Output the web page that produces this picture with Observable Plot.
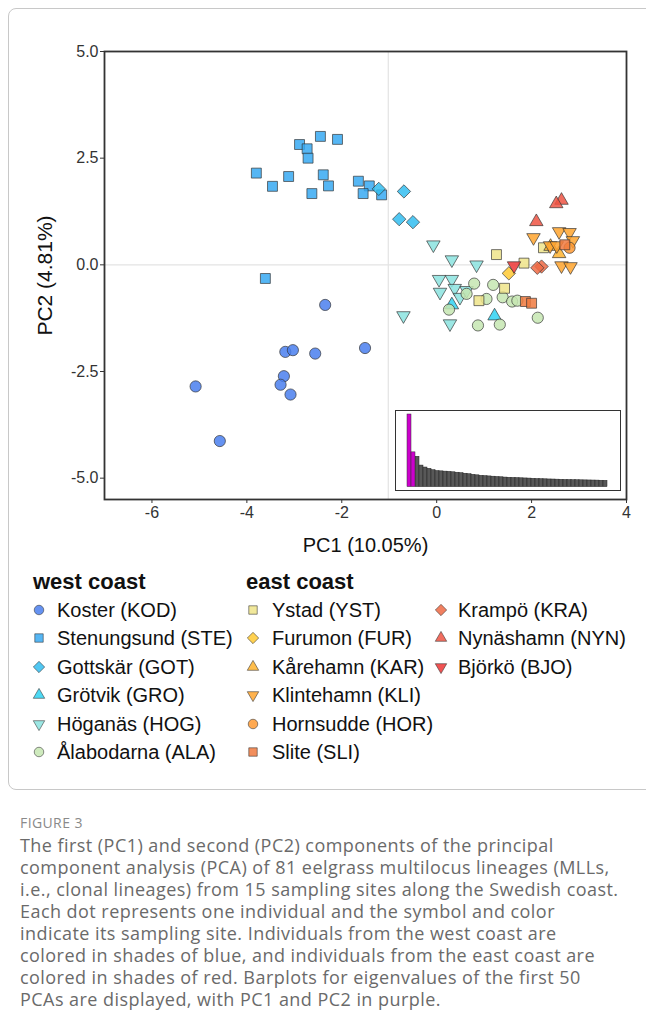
<!DOCTYPE html>
<html><head><meta charset="utf-8">
<script src="https://cdn.jsdelivr.net/npm/d3@7"></script>
<script src="https://cdn.jsdelivr.net/npm/@observablehq/plot@0.6"></script>
<style>
body{margin:0;background:#fff;width:646px;height:1023px;overflow:hidden;position:relative;font-family:"Liberation Sans",Arial,sans-serif;}
#box{position:absolute;left:8px;top:8px;width:700px;height:782px;border:1px solid #c8c8c8;border-radius:8px;box-sizing:border-box;}
#main{position:absolute;left:0;top:0;}
#inset{position:absolute;left:395px;top:410px;width:226px;height:81px;border:1.3px solid #333;background:#fff;box-sizing:border-box;}
#inset svg{display:block;}
.lg{position:absolute;white-space:nowrap;color:#111;}
.hd{position:absolute;font-weight:bold;font-size:22px;color:#111;white-space:nowrap;}
#figlab{position:absolute;left:20px;top:813px;font:14px "Open Sans",sans-serif;color:#8a8a8a;letter-spacing:0.4px;}
#cap{position:absolute;left:20px;top:834px;font:18px/22px "Open Sans",sans-serif;letter-spacing:0.45px;color:#6a6a6a;white-space:nowrap;}
</style></head>
<body>
<div id="box"></div>
<div id="main"></div>
<div id="inset"></div>
<div id="legend"></div>
<div id="figlab">FIGURE 3</div>
<div id="cap">The first (PC1) and second (PC2) components of the principal<br>component analysis (PCA) of 81 eelgrass multilocus lineages (MLLs,<br>i.e., clonal lineages) from 15 sampling sites along the Swedish coast.<br>Each dot represents one individual and the symbol and color<br>indicate its sampling site. Individuals from the west coast are<br>colored in shades of blue, and individuals from the east coast are<br>colored in shades of red. Barplots for eigenvalues of the first 50<br>PCAs are displayed, with PC1 and PC2 in purple.</div>
<script>
// ---------- data ----------
const siteCodes = ["KOD","STE","GOT","GRO","HOG","ALA","YST","FUR","KAR","KLI","HOR","SLI","KRA","NYN","BJO"];
const siteNames = ["Koster","Stenungsund","Gottskär","Grötvik","Höganäs","Ålabodarna","Ystad","Furumon","Kårehamn","Klintehamn","Hornsudde","Slite","Krampö","Nynäshamn","Björkö"];
const westSites = ["KOD","STE","GOT","GRO","HOG","ALA"];
const eastSites1 = ["YST","FUR","KAR","KLI","HOR","SLI"];
const eastSites2 = ["KRA","NYN","BJO"];

// [PC1, PC2] per site
const KOD = [[-2.35,-0.94],[-3.19,-2.04],[-3.03,-2.0],[-2.56,-2.08],[-1.51,-1.95],[-3.22,-2.61],[-3.29,-2.81],[-3.08,-3.04],[-5.08,-2.85],[-4.57,-4.13]];
const STE = [[-2.89,2.82],[-2.73,2.72],[-2.71,2.50],[-2.45,3.01],[-2.09,2.94],[-3.80,2.15],[-3.46,1.84],[-3.12,2.07],[-2.39,2.11],[-2.28,1.85],[-2.63,1.67],[-1.65,1.96],[-1.42,1.85],[-1.55,1.67],[-1.16,1.64],[-3.61,-0.32]];
const GOT = [[-1.22,1.78],[-0.69,1.72],[-0.79,1.07],[-0.50,1.00]];
const GRO = [[0.32,-0.94],[1.22,-1.20]];
const HOG = [[-0.07,0.47],[0.32,0.12],[0.84,0.0],[0.05,-0.34],[0.32,-0.34],[0.07,-0.64],[0.38,-0.55],[0.49,-0.76],[0.63,-0.60],[0.28,-1.38],[-0.70,-1.19]];
const ALA = [[0.79,-0.44],[1.19,-0.47],[0.63,-0.68],[1.05,-0.80],[0.26,-1.05],[0.87,-1.42],[1.33,-1.40],[1.39,-0.76],[1.59,-0.86],[1.70,-0.84],[2.13,-1.24]];
const YST = [[1.26,0.24],[1.84,0.04],[1.43,-0.55],[0.89,-0.84],[2.25,0.40]];
const FUR = [[1.52,-0.20]];
const KAR = [[2.58,0.26],[2.40,0.43]];
const KLI = [[2.04,0.64],[2.58,0.78],[2.80,0.76],[2.87,0.57],[2.39,0.45],[2.53,0.45],[2.63,-0.02],[2.82,-0.04]];
const HOR = [[2.80,0.40]];
const SLI = [[1.87,-0.86],[2.00,-0.90],[2.70,0.47]];
const KRA = [[2.21,-0.04],[2.12,-0.07]];
const NYN = [[2.63,1.51],[2.52,1.43],[2.10,1.01]];
const BJO = [[1.63,-0.02]];

const eigenvalues = [10.05,4.81,4.2,2.98,2.71,2.53,2.34,2.22,2.18,2.14,2.11,2.05,1.99,1.93,1.85,1.78,1.7,1.63,1.56,1.52,1.48,1.44,1.4,1.36,1.32,1.29,1.27,1.25,1.22,1.2,1.18,1.15,1.12,1.1,1.08,1.06,1.05,1.03,1.01,0.99,0.98,0.96,0.95,0.94,0.93,0.92,0.91,0.9,0.88,0.87];

const xTicks = [-6,-4,-2,0,2,4];
const yTicks = [-5,-2.5,0,2.5,5];
const xLabel = "PC1 (10.05%)";
const yLabel = "PC2 (4.81%)";
const vRefX = -1.02;

// ---------- styles ----------
const sqrt3 = Math.sqrt(3);
const triangleDown = {draw(ctx, size){const y = -Math.sqrt(size/(sqrt3*3)); ctx.moveTo(0,-y*2); ctx.lineTo(-sqrt3*y,y); ctx.lineTo(sqrt3*y,y); ctx.closePath();}};
const style = {
  KOD:{color:"#4a7fef",symbol:"circle",r:5.6},
  STE:{color:"#37a9f2",symbol:"square",r:5.6},
  GOT:{color:"#33bdf0",symbol:"diamond2",r:6.0},
  GRO:{color:"#2fd2f2",symbol:"triangle",r:5.0},
  HOG:{color:"#8be3df",symbol:triangleDown,r:5.0},
  ALA:{color:"#c6e6b2",symbol:"circle",r:5.6},
  YST:{color:"#efe48a",symbol:"square",r:5.6},
  FUR:{color:"#ffc933",symbol:"diamond2",r:6.0},
  KAR:{color:"#ffb32e",symbol:"triangle",r:5.0},
  KLI:{color:"#ffa52e",symbol:triangleDown,r:5.0},
  HOR:{color:"#ff9a33",symbol:"circle",r:5.6},
  SLI:{color:"#f07a40",symbol:"square",r:5.6},
  KRA:{color:"#ee6a44",symbol:"diamond2",r:6.0},
  NYN:{color:"#ef5443",symbol:"triangle",r:5.0},
  BJO:{color:"#ef3535",symbol:triangleDown,r:5.0}
};
const siteData = {KOD,STE,GOT,GRO,HOG,ALA,YST,FUR,KAR,KLI,HOR,SLI,KRA,NYN,BJO};

const points = siteCodes.flatMap(code => siteData[code].map(([pc1,pc2]) => ({site:code, pc1, pc2})));
const fmtY = d => d3.format(".1f")(d).replace("\u2212","-");

const main = Plot.plot({
  width:646, height:565,
  marginLeft:104, marginRight:20, marginTop:51, marginBottom:66,
  style:{fontFamily:'"Liberation Sans", Arial, sans-serif', background:"transparent", color:"#333"},
  x:{domain:[-7,4]},
  y:{domain:[-5.5,5.0]},
  marks:[
    Plot.ruleY([0],{stroke:"#e3e3e3",strokeWidth:1.2}),
    Plot.ruleX([vRefX],{stroke:"#e3e3e3",strokeWidth:1.2}),
    ...siteCodes.map(code => Plot.dot(points.filter(p => p.site===code), {
      x:"pc1", y:"pc2", symbol:style[code].symbol, r:style[code].r,
      fill:style[code].color, fillOpacity:0.85, stroke:"#333", strokeOpacity:0.85, strokeWidth:0.8
    })),
    Plot.frame({stroke:"#333", strokeWidth:1.8}),
    Plot.axisX({ticks:xTicks, tickSize:4, tickPadding:3, fontSize:16, label:null, tickFormat:d=>String(d), stroke:"#333", color:"#333"}),
    Plot.axisY({ticks:yTicks, tickSize:4, tickPadding:2, fontSize:16, label:null, tickFormat:fmtY, stroke:"#333", color:"#333"}),
    Plot.text([xLabel],{text:d=>d, frameAnchor:"bottom", dy:46, textAnchor:"middle", lineAnchor:"middle", fontSize:20, fill:"#111"}),
    Plot.text([yLabel],{text:d=>d, frameAnchor:"left", dx:-59, textAnchor:"middle", lineAnchor:"middle", rotate:-90, fontSize:21, fill:"#111"})
  ]
});
document.getElementById("main").appendChild(main);

const eigData = eigenvalues.map((v,i) => ({pc:i+1, value:v}));
const inset = Plot.plot({
  width:223, height:78,
  marginLeft:11.4, marginRight:11.4, marginTop:3, marginBottom:2.4,
  x:{type:"band", domain:d3.range(1,51), padding:0, axis:null},
  y:{domain:[0,eigenvalues[0]], axis:null},
  marks:[
    Plot.barY(eigData.filter(d=>d.pc>2),{x:"pc", y:"value", fill:"#585858", stroke:"#222", strokeWidth:0.5}),
    Plot.barY(eigData.filter(d=>d.pc<=2),{x:"pc", y:"value", fill:"#cc00cc", stroke:"#333", strokeWidth:0.5})
  ]
});
document.getElementById("inset").appendChild(inset);

// ---------- legend ----------
const legend = document.getElementById("legend");
function addHeader(text, x, y){
  const d = document.createElement("div"); d.className="hd"; d.textContent=text;
  d.style.left = x+"px"; d.style.top = (y-13)+"px"; legend.appendChild(d);
}
function addItem(code, symX, textX, y){
  const st = style[code];
  const sym = typeof st.symbol === "string" ? ({circle:d3.symbolCircle, square:d3.symbolSquare, diamond2:d3.symbolDiamond2, triangle:d3.symbolTriangle})[st.symbol] : st.symbol;
  const r = st.r*0.85;
  const path = d3.symbol(sym, r*r*Math.PI)();
  const s = document.createElementNS("http://www.w3.org/2000/svg","svg");
  s.setAttribute("width",20); s.setAttribute("height",20);
  s.style.position="absolute"; s.style.left=(symX-10)+"px"; s.style.top=(y-10)+"px";
  s.innerHTML = `<path d="${path}" transform="translate(10,10)" fill="${st.color}" fill-opacity="0.85" stroke="#333" stroke-opacity="0.7" stroke-width="0.8"/>`;
  legend.appendChild(s);
  const t = document.createElement("div"); t.className="lg";
  t.style.left = textX+"px"; t.style.top=(y-12)+"px"; t.style.fontSize="20px"; t.style.lineHeight="24px";
  t.textContent = `${siteNames[siteCodes.indexOf(code)]} (${code})`;
  legend.appendChild(t);
}
addHeader("west coast", 33, 582);
addHeader("east coast", 246, 582);
westSites.forEach((c,i)=>addItem(c, 39, 57, 610+28.4*i));
eastSites1.forEach((c,i)=>addItem(c, 253, 272, 610+28.4*i));
eastSites2.forEach((c,i)=>addItem(c, 441, 458, 610+28.4*i));
</script>
</body></html>
